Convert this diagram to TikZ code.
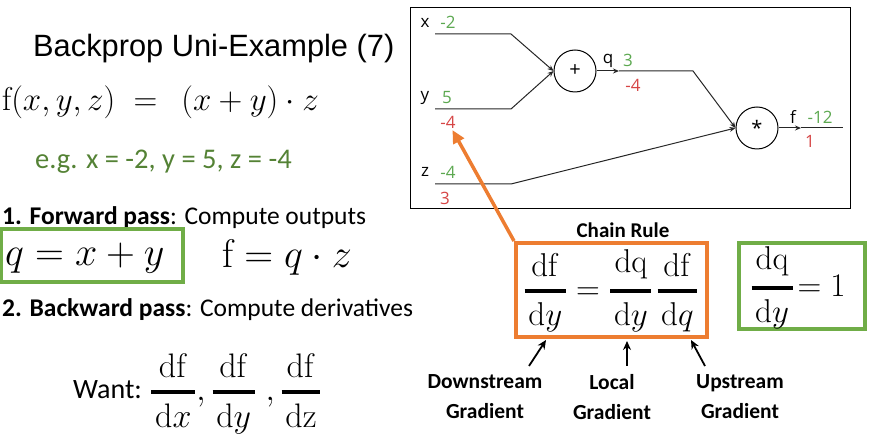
\RequirePackage{fix-cm}
\documentclass[tikz,border=0pt]{standalone}
\usepackage{amsmath}
\usepackage[no-math]{fontspec}
\setmainfont{Carlito}
\newfontfamily\titlefont{Liberation Sans}
\newfontfamily\graphfont{Open Sans}
\usetikzlibrary{arrows.meta}

\definecolor{valgreen}{RGB}{92,168,80}
\definecolor{valred}{RGB}{214,69,69}
\definecolor{egreen}{RGB}{84,130,53}
\definecolor{boxgreen}{RGB}{112,173,71}
\definecolor{hlorange}{RGB}{237,125,49}

% fraction with a heavy bar
\newcommand{\gradfrac}[2]{\genfrac{}{}{3.4pt}{0}{\mkern2mu#1\mkern2mu}{\mkern2mu#2\mkern2mu}}

\begin{document}
\begin{tikzpicture}[x=1pt, y=-1pt,
    gate/.style={draw, circle, line width=1pt, minimum size=42pt, inner sep=0pt,
      font=\graphfont\fontsize{20}{20}\selectfont},
    wire/.style={line width=1pt, draw=black!85},
    wiretip/.style={wire, -{Stealth[length=6pt,width=5pt]}},
    lbl/.style={font=\graphfont\fontsize{17}{17}\selectfont, inner sep=0pt},
    fwdval/.style={lbl, text=valgreen},
    bwdval/.style={lbl, text=valred},
    hlbox/.style={draw, line width=4pt, inner sep=0pt},
    gradlbl/.style={font=\bfseries\fontsize{21.5}{30}\selectfont, align=center, inner sep=0pt},
    gradarrow/.style={line width=1.8pt, -{Stealth[length=9pt,width=8pt]}},
  ]
  \useasboundingbox (0,0) rectangle (873,435);

  % left column
  \node[anchor=west, inner sep=0pt, font=\titlefont\fontsize{30.8}{30.8}\selectfont] (title) at (33,49) {Backprop Uni-Example (7)};
  \node[anchor=west, inner sep=0pt, font=\fontsize{33}{33}\selectfont] (func) at (2,102) {$\mathrm{f}(x,y,z)\;=\;\,(x+y)\cdot z$};
  \node[anchor=west, inner sep=0pt, text=egreen, font=\fontsize{28.5}{28.5}\selectfont] (example) at (35,162) {e.g. x = -2, y = 5, z = -4};

  \node[anchor=west, inner sep=0pt, font=\fontsize{25.5}{25.5}\selectfont] (fwdpass) at (2,218) {\textbf{1. Forward pass}: Compute outputs};
  \node[hlbox, draw=boxgreen, minimum width=182pt, minimum height=53pt] (qbox) at (92,255.5) {};
  \node[anchor=west, inner sep=0pt, font=\fontsize{40}{40}\selectfont] (qeq) at (5,258) {$q=x+y$};
  \node[anchor=west, inner sep=0pt, font=\fontsize{40}{40}\selectfont] (feq) at (222,258) {$\mathrm{f}=q\cdot z$};

  \node[anchor=west, inner sep=0pt, font=\fontsize{25.5}{25.5}\selectfont] (bwdpass) at (2,310) {\textbf{2. Backward pass}: Compute derivatives};
  \node[anchor=west, inner sep=0pt, font=\fontsize{28}{28}\selectfont] (want) at (73,390) {Want:};
  \node[anchor=west, inner sep=0pt, font=\fontsize{34}{34}\selectfont] (wantfr) at (150,394)
    {$\gradfrac{\mathrm{df}}{\mathrm{d}x},\gradfrac{\mathrm{df}}{\mathrm{d}y}\;,\gradfrac{\mathrm{df}}{\mathrm{dz}}$};

  % computational graph
  \draw[line width=1pt] (410,8) rectangle (850,209);
  \node[gate] (add) at (575,71) {+};
  \node[gate] (mul) at (757,128) {*};

  \coordinate (xin) at (435,34);   \coordinate (xbend) at (511,34);
  \coordinate (yin) at (435,109);  \coordinate (ybend) at (511,109);
  \coordinate (zin) at (435,184);  \coordinate (zbend) at (511,184);
  \coordinate (qmid) at (619,71);  \coordinate (qbend) at (693,71);
  \coordinate (fmid) at (801,128); \coordinate (fout) at (843,128);

  \draw[wiretip] (xin) -- (xbend) -- (add.west);
  \draw[wiretip] (yin) -- (ybend) -- (add.west);
  \draw[wiretip] (zin) -- (zbend) -- (mul.west);
  \draw[wiretip] (add.east) -- (qmid);
  \draw[wiretip] (qmid) -- (qbend) -- (mul.west);
  \draw[wiretip] (mul.east) -- (fmid);
  \draw[wire] (fmid) -- (fout);

  \node[lbl] (xname) at (425,23) {x};
  \node[fwdval] (xval) at (448,22) {-2};
  \node[lbl] (yname) at (425,98) {y};
  \node[fwdval] (yval) at (447,98) {5};
  \node[bwdval] (ygrad) at (448,122) {-4};
  \node[lbl] (zname) at (425,172) {z};
  \node[fwdval] (zval) at (448,172) {-4};
  \node[bwdval] (zgrad) at (445,198) {3};
  \node[lbl] (qname) at (608,61) {q};
  \node[fwdval] (qval) at (628,60) {3};
  \node[bwdval] (qgrad) at (633,85) {-4};
  \node[lbl] (fname) at (793,117) {f};
  \node[fwdval] (fval) at (820,117) {-12};
  \node[bwdval] (fgrad) at (810,141) {1};

  % chain rule
  \node[font=\bfseries\fontsize{21}{21}\selectfont, inner sep=0pt] (chaintitle) at (623,230) {Chain Rule};
  \node[hlbox, draw=hlorange, minimum width=191pt, minimum height=94pt] (chain) at (611.5,290) {};
  \node[inner sep=0pt, font=\fontsize{33}{33}\selectfont] (chaineq) at (611,291)
    {$\gradfrac{\mathrm{df}}{\mathrm{d}y}=\gradfrac{\mathrm{dq}}{\mathrm{d}y}\mkern2mu\gradfrac{\mathrm{df}}{\mathrm{d}q}$};
  \draw[line width=3.5pt, draw=hlorange, -{Triangle[length=13pt,width=12pt]}, shorten >=2pt] (chain.north west) -- (ygrad);

  \node[hlbox, draw=boxgreen, minimum width=126pt, minimum height=86pt] (dqbox) at (802,286) {};
  \node[inner sep=0pt, font=\fontsize{33}{33}\selectfont] (dqeq) at (798,288) {$\gradfrac{\mathrm{dq}}{\mathrm{d}y}\!=1$};

  % gradient names
  \node[gradlbl] (down) at (485,397) {Downstream\\Gradient};
  \node[gradlbl] (local) at (612,397) {Local\\Gradient};
  \node[gradlbl] (up) at (740,397) {Upstream\\Gradient};

  \coordinate (downfoot) at (529,366);  \coordinate (downtip) at (546,340);
  \coordinate (localfoot) at (627,366); \coordinate (localtip) at (627,341);
  \coordinate (upfoot) at (705,366);    \coordinate (uptip) at (691,340);
  \draw[gradarrow] (downfoot) -- (downtip);
  \draw[gradarrow] (localfoot) -- (localtip);
  \draw[gradarrow] (upfoot) -- (uptip);
\end{tikzpicture}
\end{document}
